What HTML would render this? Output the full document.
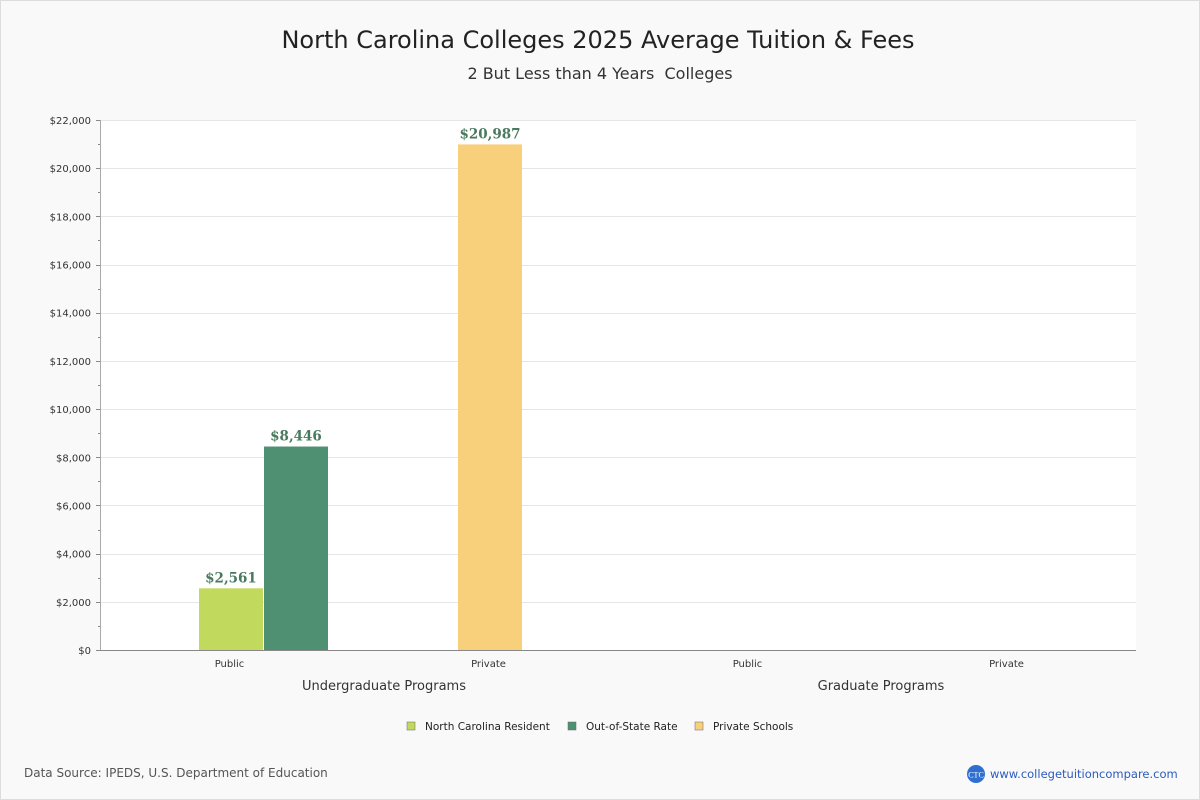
<!DOCTYPE html>
<html><head><meta charset="utf-8"><style>
body{margin:0;background:#fff}
svg{display:block;font-family:"DejaVu Sans","Liberation Sans",sans-serif}
</style></head><body>
<svg id="chart" width="1200" height="800" viewBox="0 0 1200 800">
<rect x="0.5" y="0.5" width="1199" height="799" fill="#f9f9f9" stroke="#ddd"/>
<text x="598" y="48" text-anchor="middle" font-size="24" fill="#222">North Carolina Colleges 2025 Average Tuition &amp; Fees</text>
<text x="600" y="79" text-anchor="middle" font-size="16" fill="#333" xml:space="preserve" style="white-space:pre">2 But Less than 4 Years  Colleges</text>
<rect x="100" y="120" width="1036" height="530" fill="#fff"/>
<g id="grid"></g>
<g id="bars"></g>
<line x1="100" y1="650.5" x2="1136" y2="650.5" stroke="#888"/>
<line x1="100.5" y1="120" x2="100.5" y2="650" stroke="#aaa"/>
<text x="384" y="690" text-anchor="middle" font-size="13" fill="#333">Undergraduate Programs</text>
<text x="881" y="690" text-anchor="middle" font-size="13" fill="#333">Graduate Programs</text>
<g font-size="10.5" fill="#222">
<rect x="407" y="722" width="8" height="8" fill="#c1da5e" stroke="#666" stroke-width="0.5"/>
<text x="425" y="730">North Carolina Resident</text>
<rect x="568" y="722" width="8" height="8" fill="#4f9073" stroke="#666" stroke-width="0.5"/>
<text x="586" y="730">Out-of-State Rate</text>
<rect x="695" y="722" width="8" height="8" fill="#f8cf7b" stroke="#666" stroke-width="0.5"/>
<text x="713" y="730">Private Schools</text>
</g>
<text x="24" y="777" font-size="12" fill="#555">Data Source: IPEDS, U.S. Department of Education</text>
<circle cx="976" cy="774" r="9" fill="#2f6fd0"/>
<text x="976" y="777.5" text-anchor="middle" font-size="8" fill="#fff" font-family="Liberation Serif,serif">CTC</text>
<text x="990" y="778" font-size="11.5" fill="#2a5bc0">www.collegetuitioncompare.com</text>
</svg>
<script>
const categories=["Public","Private","Public","Private"];
const residentValues=[2561,null,null,null];
const outOfStateValues=[8446,null,null,null];
const privateValues=[null,20987,null,null];
const yTicks=[0,2000,4000,6000,8000,10000,12000,14000,16000,18000,20000,22000];
const NS="http://www.w3.org/2000/svg";
const X0=100,X1=1136,Y0=650,Y1=120,YMAX=22000;
const bw=(X1-X0)/categories.length;
function y(v){return Y0-(v/YMAX)*(Y0-Y1);}
function cx(i){return X0+bw*(i+0.5);}
function mk(t,a,p){const e=document.createElementNS(NS,t);for(const k in a)e.setAttribute(k,a[k]);p.appendChild(e);return e;}
const grid=document.getElementById('grid'),bars=document.getElementById('bars');
yTicks.forEach(v=>{
  if(v>0){const l=mk('line',{x1:X0,x2:X1,y1:Math.round(y(v))+0.5,y2:Math.round(y(v))+0.5,stroke:'#e6e6e6'},grid);
  
  }
  const t=mk('text',{x:91,y:y(v)+4,'text-anchor':'end','font-size':10,fill:'#333'},grid);
  t.textContent='$'+v.toLocaleString('en-US');
  
  
  mk('line',{x1:96,x2:100,y1:Math.round(y(v))+0.5,y2:Math.round(y(v))+0.5,stroke:'#888'},grid);
  if(v<YMAX){mk('line',{x1:98,x2:100,y1:Math.round(y(v+1000))+0.5,y2:Math.round(y(v+1000))+0.5,stroke:'#888'},grid);}
});
categories.forEach((c,i)=>{
  const t=mk('text',{x:cx(i),y:667,'text-anchor':'middle','font-size':10,fill:'#333'},grid);
  t.textContent=c;
  
  
});
const W=64;
function bar(i,v,off,color,name){
  if(v==null)return;
  const x=cx(i)+off-W/2;
  const r=mk('rect',{x:x,y:y(v),width:W,height:Y0-y(v),fill:color},bars);
  
  
  const t=mk('text',{x:x+W/2,y:y(v)-6,'text-anchor':'middle','font-size':13.5,'font-weight':'bold',fill:'#4a7a5e','font-family':'DejaVu Serif,Liberation Serif,serif'},bars);
  t.textContent='$'+v.toLocaleString('en-US');
  
  
}
categories.forEach((c,i)=>{
  bar(i,residentValues[i],1.5,'#c1da5e','bar-resident');
  bar(i,outOfStateValues[i],66.5,'#4f9073','bar-out-of-state');
  bar(i,privateValues[i],1.5,'#f8cf7b','bar-private');
});
</script>
</body></html>
